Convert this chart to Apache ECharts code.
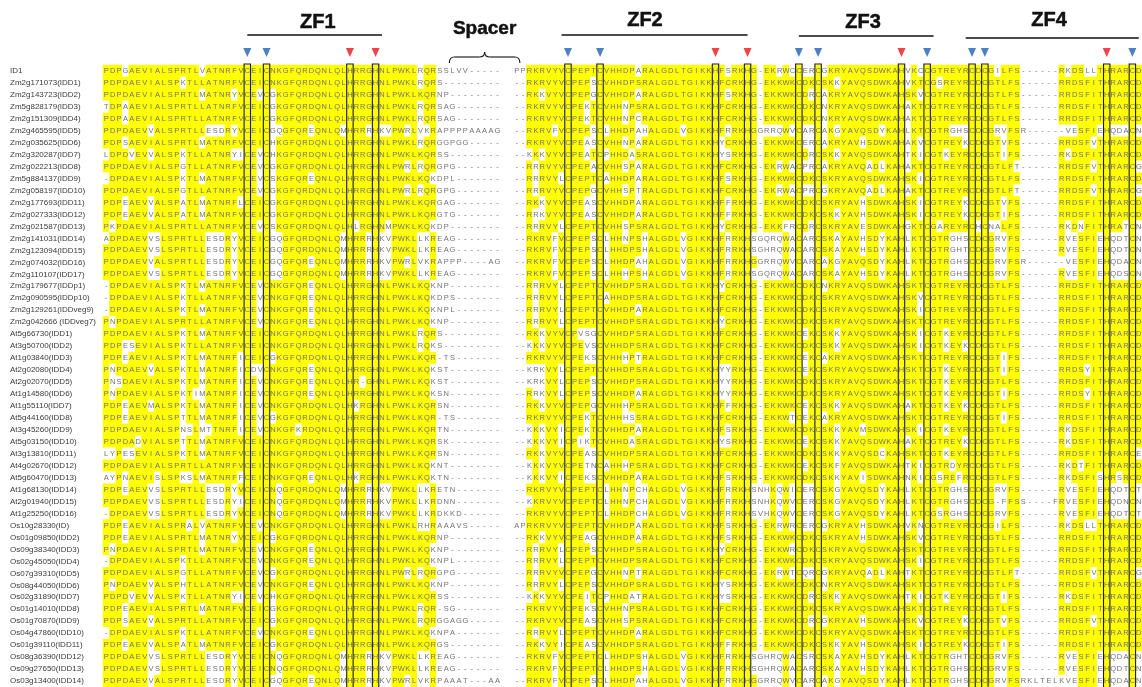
<!DOCTYPE html>
<html>
<head>
<meta charset="utf-8">
<script src="https://cdn.jsdelivr.net/npm/echarts@6/dist/echarts.min.js"></script>
<style>
html, body { margin: 0; padding: 0; background: #fff; }
#chart { width: 1142px; height: 687px; }
</style>
</head>
<body>
<div id="chart"></div>
<script>
// sequence names, top to bottom
const rowLabels = [
    'ID1', 'Zm2g171073(IDD1)', 'Zm2g143723(IDD2)', 'Zm5g828179(IDD3)', 'Zm2g151309(IDD4)',
    'Zm2g465595(IDD5)', 'Zm2g035625(IDD6)', 'Zm2g320287(IDD7)', 'Zm2g022213(IDD8)', 'Zm5g884137(IDD9)',
    'Zm2g058197(IDD10)', 'Zm2g177693(IDD11)', 'Zm2g027333(IDD12)', 'Zm2g021587(IDD13)', 'Zm2g141031(IDD14)',
    'Zm2g123094(IDD15)', 'Zm2g074032(IDD16)', 'Zm2g110107(IDD17)', 'Zm2g179677(IDDp1)', 'Zm2g090595(IDDp10)',
    'Zm2g129261(IDDveg9)', 'Zm2g042666 (IDDveg7)', 'At5g66730(IDD1)', 'At3g50700(IDD2)', 'At1g03840(IDD3)',
    'At2g02080(IDD4)', 'At2g02070(IDD5)', 'At1g14580(IDD6)', 'At1g55110(IDD7)', 'At5g44160(IDD8)',
    'At3g45260(IDD9)', 'At5g03150(IDD10)', 'At3g13810(IDD11)', 'At4g02670(IDD12)', 'At5g60470(IDD13)',
    'At1g68130(IDD14)', 'At2g01940(IDD15)', 'At1g25250(IDD16)', 'Os10g28330(ID)', 'Os01g09850(IDD2)',
    'Os09g38340(IDD3)', 'Os02g45050(IDD4)', 'Os07g39310(IDD5)', 'Os08g44050(IDD6)', 'Os02g31890(IDD7)',
    'Os01g14010(IDD8)', 'Os01g70870(IDD9)', 'Os04g47860(IDD10)', 'Os01g39110(IDD11)', 'Os08g36390(IDD12)',
    'Os09g27650(IDD13)', 'Os03g13400(IDD14)',
];

// columns 0-42 (ZF1)
const seqA = [
    'PDPGAEVIALSPRTLVATNRFVCEICNKGFQRDQNLQLHRRGH',
    'PDPDAEVIALSPKTLLATNRFVCEICNKGFQRDQNLQLHRRGH',
    'PDPDAEVIALSPRTLMATNRYVCEVCGKGFQRDQNLQLHRRGH',
    'TDPAAEVIALSPRTLLATNRFVCEICGKGFQRDQNLQLHRRGH',
    'PDPAAEVIALSPRTLLATNRFVCEICGKGFQRDQNLQLHRRGH',
    'PDPDAEVVALSPRTLLESDRYVCEICGQGFQREQNLQMHRRRH',
    'PDPSAEVIALSPRTLMATNRFVCEICHKGFQRDQNLQLHRRGH',
    'LDPDVEVVALSPKTLLATNRYICEVCHKGFQRDQNLQLHRRGH',
    'PDPDAEVIALSPGTLLATNRFVCEVCGKGFQRDQNLQLHRRGH',
    '-DPDAEVIALSPKTLMATNRFVCEVCSKGFQREQNLQLHRRGH',
    'PDPDAEVIALSPGTLLATNRFVCEVCGKGFQRDQNLQLHRRGH',
    'PDPEAEVVALSPATLMATNRFLCEICGKGFQRDQNLQLHRRGH',
    'PDPEAEVVALSPATLMATNRFVCEICGKGFQRDQNLQLHRRGH',
    'PKPDAEVIALSPRTLLATNRFVCEVCSKGFQRDQNLQLHLRGH',
    'ADPDAEVVSLSPRTLLESDRYVCEICGQGFQRDQNLQMHRRRH',
    'PDPDAEVVSLSPRTLLESDRYVCEICGQGFQRDQNLQMHRRRH',
    'PDPDAEVVALSPRTLLESDRYVCEICGQGFQREQNLQMHRRRH',
    'PDPDAEVVSLSPRTLLESDRYVCEICGQGFQRDQNLQMHRRRH',
    '-DPDAEVIALSPKTLMATNRFVCEVCNKGFQREQNLQLHRRGH',
    '-DPDAEVIALSPKTLLATNRFVCEVCNKGFQREQNLQLHRRGH',
    '-DPDAEVIALSPKTLMATNRFVCEVCNKGFQREQNLQLHRRGH',
    'PNPDAEVIALSPRTLLATNRFVCEVCNKGFQREQNLQLHRRGH',
    'PDPDAEVIALSPKTLMATNRFVCEICNKGFQRDQNLQLHRRGH',
    'PDPESEVIALSPKTLLATNRFVCEICNKGFQRDQNLQLHRRGH',
    'PDPEAEVIALSPKTLMATNRFICEICGKGFQRDQNLQLHRRGH',
    'PNPDAEVVALSPKTLMATNRFICDVCNKGFQREQNLQLHRRGH',
    'PNSDAEVIALSPKTLMATNRFICEVCNKGFQREQNLQLHR-GH',
    'PNPDAEVIALSPKTIMATNRFICEVCNKGFQREQNLQLHRRGH',
    'PDPEAEVMALSPKTLMATNRFICEVCNKGFQRDQNLQLHKRGH',
    'PDPEAEVIALSPTTLMATNRFICEVCGKGFQRDQNLQLHRRGH',
    'PDPDAEVIALSPNSLMTTNRFICEVCNKGFKRDQNLQLHRRGH',
    'PDPDADVIALSPTTLMATNRFVCEICNKGFQRDQNLQLHRRGH',
    'LYPESEVIALSPKTLMATNRFVCEICNKGFQRDQNLQLHRRGH',
    'PDPDAEVIALSPRTLLATNRFVCEICNKGFQRDQNLQLHRRGH',
    'AYPNAEVISLSPKSLMATNRFFCEICNKGFQREQNLQLHKRGH',
    'PDPEAEVVSLSPRTLLESDRYVCEICNQGFQRDQNLQMHRRRH',
    'PDPDAEVVSLSPRTLLESDRYICEICNQGFQRDQNLQMHRRRH',
    '-DPDAEVVSLSPRTLLESDRYVCEICNQGFQRDQNLQMHRRRH',
    'PDPEAEVIALSPRALVATNRFVCEVCNKGFQRDQNLQLHRRGH',
    'PDPEAEVIALSPRTLMATNRYVCEICGKGFQRDQNLQLHRRGH',
    'PNPDAEVIALSPRTLMATNRFVCEVCNKGFQREQNLQLHRRGH',
    '-DPDAEVIALSPKTLLATNRFVCEVCNKGFQREQNLQLHRRGH',
    'PDPDAEVIALSPGTLLATNRFVCEVCGKGFQRDQNLQLHRRGH',
    'PNPDAEVVALSPHTLLATNRFVCEVCNKGFQREQNLQLHRRGH',
    'PDPDVEVVALSPKTLLATNRYICEVCHKGFQRDQNLQLHRRGH',
    'PDPEAEVIALSPRTLMATNRFVCEICGKGFQRDQNLQLHRRGH',
    'PDPSAEVVALSPRTLLATNRFVCEICGKGFQRDQNLQLHRRGH',
    '-DPDAEVIALSPKTLLATNRFVCEVCNKGFQREQNLQLHRRGH',
    'PDPEAEVVALSPATLMATNRFVCEICGKGFQRDQNLQLHRRGH',
    'PDPDAEVVSLSPRTLLESDRYVCEICNQGFQRDQNLQMHRRRH',
    'PDPDAEVVSLSPRTLLESDRYVCEICNQGFQRDQNLQMHRRRH',
    'PDPDAEVVALSPRTLLESDRYVCEICGQGFQREQNLQMHRRRH',
];

// columns 43-61 (spacer)
const seqB = [
    'NLPWKLRQRSSLVV-----', 'NLPWKLRQRS---------', 'NLPWKLKQRNP--------', 'NLPWKLRQRSAG-------',
    'NLPWKLRQRSAG-------', 'KVPWRLVKRAPPPPAAAAG', 'NLPWKLRQRGGPGG-----', 'NLPWKLKQRSS--------',
    'NLPWRLRQRGPG-------', 'NLPWKLKQKDPL-------', 'NLPWRLRQRGPG-------', 'NLPWKLKQRGAG-------',
    'NLPWKLKQRGTG-------', 'NMPWKLKQKDP--------', 'KVPWKLLKREAG-------', 'KVPWKLLKREAG-------',
    'KVPWRLVKRAPPP----AG', 'KVPWKLLKREAG-------', 'NLPWKLKQKNP--------', 'NLPWKLKQKDPS-------',
    'NLPWKLKQKNPL-------', 'NLPWKLKQKNP--------', 'NLPWKLRQRS---------', 'NLPWKLRQKS---------',
    'NLPWKLKQR-TS-------', 'NLPWKLKQKST--------', 'NLPWKLKQKST--------', 'NLPWKLKQKSN--------',
    'NLPWKLKQRSN--------', 'NLPWKLKQR-TS-------', 'NLPWKLKQRTN--------', 'NLPWKLKQRSK--------',
    'NLPWKLKQRSN--------', 'NLPWKLKQKNT--------', 'NLPWKLKQKTN--------', 'KVPWKLLKRETN-------',
    'KVPWKLLKRDNN-------', 'KVPWKLLKRDKKD------', 'NLPWKLRHRAAAVS-----', 'NLPWKLKQRNP--------',
    'NLPWKLKQKNP--------', 'NLPWKLKQKNPL-------', 'NLPWRLRQRGPG-------', 'NLPWKLKQKNP--------',
    'NLPWKLKQRSS--------', 'NLPWKLRQR-SG-------', 'NLPWKLRQRGGAGG-----', 'NLPWKLKQKNPA-------',
    'NLPWKLKQRGS--------', 'KVPWKLLKREAG-------', 'KVPWKLLKREAG-------', 'KVPWRLVKRPAAAT---AA',
];

// columns 64-101 (ZF2)
const seqC = [
    'PPRKRVYVCPEPTCVHHDPARALGDLTGIKKHFSRKHG', '--RKRVYVCPEPSCVHHDPSRALGDLTGIKKHFCRKHG',
    '--RKKVYVCPEPGCVHHDPARALGDLTGIKKHFSRKHG', '--RKRVYVCPEKTCVHHNPSRALGDLTGIKKHFCRKHG',
    '--RKRVYVCPEKTCVHHNPCRALGDLTGIKKHFCRKHG', '--RKRVFVCPEPSCLHHDPAHALGDLVGIKKHFRRKHG',
    '--RKRVYVCPEASCVHHNPARALGDLTGIKKHYCRKHG', '--KKKVYVCPEATCPHHDASRALGDLTGIKKHYSRKHG',
    '--RRRVYVCPEPACVHHSPARALGDLTGIKKHFCRKHG', '--RRRVYLCPEPTCAHHDPARALGDLTGIKKHFSRKHG',
    '--RRRVYVCPEPGCVHHSPTRALGDLTGIKKHFCRKHG', '--RKKVYVCPEASCVHHDPARALGDLTGIKKHFFRKHG',
    '--RRKVYVCPEASCVHHDPARALGDLTGIKKHFFRKHG', '--RRRVYLCPEPTCVHHSPSRALGDLTGIKKHYCRKHG',
    '--RKRVFVCPEPSCLHHNPSHALGDLVGIKKHFRRKHS', '--RKRVFVCPEPSCLHHDPSHALGDLVGIKKHFRRKHS',
    '--RKRVFVCPEPSCLHHDPAHALGDLVGIKKHFRRKHG', '--RKRVFVCPEPSCLHHHPSHALGDLVGIKKHFRRKHS',
    '--RRRVYLCPEPTCVHHDPSRALGDLTGIKKHYCRKHG', '--RRRVYLCPEPTCAHHDPSRALGDLTGIKKHFCRKHG',
    '--RRRVYLCPEPTCVHHDPARALGDLTGIKKHFCRKHG', '--RRRVYLCPEPTCVHHDPSRALGDLTGIKKHYCRKHG',
    '--RKKVYVCPVSGCVHHDPSRALGDLTGIKKHFCRKHG', '--KKKVYVCPEVSCVHHDPSRALGDLTGIKKHFCRKHG',
    '--RKRVYVCPEKSCVHHHPTRALGDLTGIKKHFCRKHG', '--KRKVYLCPEPTCVHHDPSRALGDLTGIKKHYYRKHG',
    '--KRKVYLCPEPSCVHHDPSRALGDLTGIKKHYYRKHG', '--RRKVYLCPEPSCVHHDPARALGDLTGIKKHYYRKHG',
    '--RKKVYVCPEPGCVHHHPSRALGDLTGIKKHFFRKHG', '--RKRVYVCPEKTCVHHHSSRALGDLTGIKKHFCRKHG',
    '--KKKVYICPEKTCVHHDPARALGDLTGIKKHFSRKHG', '--KKKVYICPIKTCVHHDASRALGDLTGIKKHYSRKHG',
    '--RKKVYVCPEASCVHHDPSRALGDLTGIKKHFCRKHG', '--KKKVYVCPETNCAHHHPSRALGDLTGIKKHFCRKHG',
    '--KKKVYICPEKSCVHHDPARALGDLTGIKKHFSRKHG', '--RKRVYVCPEPTCLHHNPCHALGDLVGIKKHFRRKHS',
    '--KKRVYVCPEPTCLHHNPCHALGDLVGIKKHFRRKHS', '--RKRVYVCPEPTCLHHDPCHALGDLVGIKKHFRRKHS',
    'APRKRVYVCPEPTCVHHDPARALGDLTGIKKHFSRKHG', '--RKKVYVCPEAGCVHHDPARALGDLTGIKKHFSRKHG',
    '--RRRVYLCPEPSCVHHDPSRALGDLTGIKKHYCRKHG', '--RRRVYLCPEPTCVHHDPSRALGDLTGIKKHFCRKHG',
    '--RRRVYVCPEPGCVHHNPTRALGDLTGIKKHFCRKHG', '--RRRVYLCPEPSCVHHDPSRALGDLTGIKKHYSRKHG',
    '--KKKVYVCPEITCPHHDATRALGDLTGIKKHYSRKHG', '--RKRVYVCPEKSCVHHNPSRALGDLTGIKKHFCRKHG',
    '--RKRVYVCPEASCVHHSPSRALGDLTGIKKHFCRKHG', '--RRRVYLCPEPTCVHHDPARALGDLTGIKKHFCRKHG',
    '--RKKVYICPEASCVHHDPSRALGDLTGIKKHFFRKHG', '--RKRVFVCPEPTCLHHDPSHALGDLVGIKKHFRRKHS',
    '--RKRVFVCPEPTCLHHDPSHALGDLVGIKKHFRRKHS', '--RKRVFVCPEPSCLHHDPAHALGDLVGIKKHFRRKHG',
];

// columns 102-161 (ZF3, ZF4)
const seqD = [
    '-EKRWCCERCGKRYAVQSDWKAHVKCCGTREYRCDCGILFS------RKDSLLTHRARCD',
    '-EKKWKCDKCSKKYAVQSDWKAHVKTCGSREYRCDCGTLFS------RRDSFITHRARCD',
    '-EKKWKCDRCAKRYAVQSDWKAHSKVCGTREYRCDCGTLFS------RRDSFITHRARCD',
    '-EKKWKCDKCNKRYAVQSDWKAHAKTCGTREYRCDCGTLFS------RRDSFITHRARCD',
    '-EKKWKCDKCNKRYAVQSDWKAHAKTCGTREYRCDCGTLFS------RRDSFITHRARCD',
    'GRRQWVCARCAKGYAVQSDYKAHLKTCGTRGHSCDCGRVFSR------VESFIEHQDACN',
    '-EKKWKCERCAKRYAVHSDWKAHAKVCGTREYKCDCGTVFS------RRDSFVTHRARCD',
    '-EKKWKCDRCSKKYAVQSDWKAHTKICGTKEYRCDCGTIFS------RKDSFITHRARCD',
    '-EKRWACPRCAKRYAVQADLKAHAKTCGTREYRCDCGTLFT------RRDSFVTHRARCG',
    '-EKKWKCDKCSKRYAVQSDWKAHSKICGTREYRCDCGTLFS------RRDSFITHRARCD',
    '-EKRWACPRCGKRYAVQADLKAHAKTCGTREYRCDCGTLFT------RRDSFVTHRARCG',
    '-EKKWKCDKCSKRYAVHSDWKAHSKICGTREYKCDCGTVFS------RRDSFITHRARCD',
    '-EKKWKCDKCSKKYAVHSDWKAHSKICGTREYKCDCGTIFS------RRDSFITHRARCD',
    '-EKKFRCDRCSKRYAVESDWKAHGKTCGAREYRCHCNALFS------RKDNFITHRATCN',
    'GQRQWACARCSKAYAVHSDYKAHLKTCGTRGHSCDCGRVFS------RVESFIEHQDTCN',
    'GHRQWACARCSKAYAVHSDYKAHLKTCGTRGHTCDCGRVFS------RVESFIEHQDTCN',
    'GRRQWVCARCAKGYAVQSDYKAHLKTCGTRGHSCDCGRVFSR------VESFIEHQDACN',
    'GQRQWACARCSKAYAVHSDYKAHLKTCGTRGHSCDCGRVFS------RVESFIEHQDSCN',
    '-EKKWKCDKCNKRYAVQSDWKAHSKTCGTREYRCDCGTLFS------RRDSFITHRARCD',
    '-EKKWKCDKCSKRYAVQSDWKAHSKVCGTREYRCDCGTLFS------RRDSFITHRARCD',
    '-EKKWKCDKCSKRYAVQSDWKAHSKICGTREYRCDCGTLFS------RRDSFITHRARCD',
    '-EKKWKCDKCSKRYAVQSDWKAHSKTCGTREYRCDCGTLFS------RRDSFITHRARCD',
    '-EKKWKCEKCSKKYAVQSDWKAHSKICGTKEYRCDCGTLFS------RRDSFITHRARCD',
    '-EKKWKCDKCSKKYAVQSDWKAHSKICGTKEYKCDCGTLFS------RRDSFITHRARCD',
    '-EKKWKCEKCAKRYAVQSDWKAHSKTCGTREYRCDCGTIFS------RRDSFITHRARCD',
    '-EKKWKCEKCSKRYAVQSDWKAHSKTCGTKEYRCDCGTIFS------RRDSYITHRARCD',
    '-EKKWKCDKCSKRYAVQSDWKAHSKTCGTKEYRCDCGTLFS------RRDSFITHRARCD',
    '-EKKWKCDKCSKRYAVQSDWKAHSKTCGTKEYRCDCGTIFS------RRDSYITHRARCD',
    '-EKKWKCEKCSKKYAVQSDWKAHAKTCGTKEYKCDCGTLFS------RRDSFITHRARCD',
    '-EKKWTCEKCAKRYAVQSDWKAHSKTCGTREYRCDCGTIFS------RRDSFITHRARCD',
    '-EKKWKCDKCSKKYAVMSDWKAHSKICGTKEYRCDCGTLFS------RKDSFITHRARCD',
    '-EKKWKCEKCSKKYAVQSDWKAHAKTCGTREYKCDCGTLFS------RKDSFITHRARCD',
    '-EKKWKCDKCSKKYAVQSDCKAHSKTCGTKEYRCDCGTLFS------RRDSFITHRARCE',
    '-EKKWKCEKCSKFYAVQSDWKAHTKICGTRDYRCDCGTLFS------RKDTFITHRARCD',
    '-EKKWKCDKCSKKYAVISDWKAHNKICGSREFRCDCGTLFS------RKDSFISHRSRCD',
    'NHKQWICERCSKGYAVQSDYKAHLKTCGTRGHSCDCGRVFS------RVESFIEHQDTCT',
    'NHKQWVCERCSKGYAVQSDYKAHLKTCGTRGHSCDCG-FFSS----FRVESFIEHQDNCN',
    'VHKQWVCERCSKGYAVQSDYKAHLKTCGSRGHSCDCGRVFS------RVESFIEHQDTCT',
    '-EKRWRCERCGKRYAVHSDWKAHVKNCGTREYRCDCGILFS------RKDSLLTHRARCD',
    '-EKKWKCDKCSKRYAVHSDWKAHSKVCGTREYRCDCGTLFS------RRDSFITHRARCD',
    '-EKKWRCDKCSKRYAVQSDWKAHSKTCGTREYRCDCGTLFS------RRDSFITHRARCD',
    '-EKKWKCDKCSKRYAVQSDWKAHSKICGTREYRCDCGTLFS------RRDSFITHRARCD',
    '-EKRWTCQRCGKRYAVQADLKAHTKTCGTREYRCDCGTLFT------RRDSFVTHRARCG',
    '-EKKWKCDKCNKRYAVQSDWKAHSKTCGTREYRCDCGTLFS------RRDSFITHRARCD',
    '-EKKWKCDRCSKKYAVQSDWKAHTKICGTKEYRCDCGTIFS------RKDSFITHRARCD',
    '-EKKWKCDKCSKRYAVQSDWKAHSKTCGTREYRCDCGTLFS------RRDSFITHRARCD',
    '-EKKWKCDRCGKRYAVHSDWKAHSKVCGTREYKCDCGTVFS------RRDSFVTHRARCD',
    '-EKKWKCDKCSKRYAVQSDWKAHSKTCGTREYRCDCGTLFS------RRDSFITHRARCD',
    '-EKKWKCDKCSKKYAVHSDWKAHSKICGTREYKCDCGTIFS------RRDSFITHRARCD',
    'GHRQWACSRCSKAYAVHSDYKAHLKTCGTRGHTCDCGRVFS------RVESFIEHQDACN',
    'GHRQWACARCSKAYAVHSDYKAHLKTCGTRGHSCDCGRVFS------RVESFIEHQDTCN',
    'GRRQWVCARCAKGYAVQSDYKAHLKTCGTRGHSCDCGRVFSRKLTELKVESFIEHQDACN',
];

// boxed (conserved C/H) columns and the triangles above them
const boxCols = [22, 25, 38, 42, 72, 77, 95, 100, 108, 111, 124, 128, 135, 137, 156, 160];
const blueCols = [22, 25, 72, 77, 108, 111, 128, 135, 137, 160];
const redCols = [38, 42, 95, 100, 124, 156];

// zinc finger domains (column ranges) and the spacer
const zfNames = ['ZF1', 'ZF2', 'ZF3', 'ZF4'];
const zfStart = [22, 71, 108, 134];
const zfEnd = [43, 100, 129, 161];
const zfLabelCol = [33, 84, 118, 147];
const spacerName = 'Spacer';
const spacerRange = [54, 64];

function fit(s, n) {
    return (s + '-'.repeat(n)).slice(0, n);
}

const seqs = rowLabels.map((_, r) => fit(seqA[r], 43) + fit(seqB[r], 19) + '  ' + fit(seqC[r], 38) + fit(seqD[r], 60));
const nCols = seqs[0].length;
const nRows = seqs.length;
const cols = Array.from({ length: nCols }, (_, i) => String(i));

// consensus residue per column (identity shading)
const consensus = cols.map((_, c) => {
    let cnt = {};
    seqs.forEach((s) => {
        const ch = s[c];
        if (ch !== '-' && ch !== ' ') {
            cnt[ch] = (cnt[ch] || 0) + 1;
        }
    });
    let best = null;
    let n = 0;
    for (const k in cnt) {
        if (cnt[k] > n) {
            best = k;
            n = cnt[k];
        }
    }
    return n >= 0.4 * nRows ? best : null;
});

let cells = [];
seqs.forEach((s, r) => {
    for (let c = 0; c < nCols; c++) {
        const ch = s[c];
        cells.push([c, r, ch === consensus[c] ? 1 : 0, ch.trim()]);
    }
});

const chart = echarts.init(document.getElementById('chart'));
const fontSans = '"Liberation Sans", Arial, sans-serif';

function titleText(x, y, text, size) {
    return {
        type: 'text',
        x: x,
        y: y,
        style: {
            text: text,
            fill: '#111',
            stroke: '#111',
            lineWidth: 0.5,
            fontSize: size,
            fontWeight: 'bold',
            fontFamily: fontSans,
            align: 'center',
            verticalAlign: 'middle',
        },
    };
}

const option = {
    animation: false,
    grid: [
        { left: 103, right: 0, top: 65, bottom: 0 },
        { left: 103, right: 0, top: 0, height: 65 },
    ],
    xAxis: [
        { type: 'category', data: cols, gridIndex: 0, show: false },
        { type: 'category', data: cols, gridIndex: 1, show: false },
    ],
    yAxis: [
        {
            type: 'category',
            data: rowLabels,
            gridIndex: 0,
            inverse: true,
            axisLine: { show: false },
            axisTick: { show: false },
            splitLine: { show: false },
            axisLabel: {
                interval: 0,
                align: 'left',
                margin: 93,
                fontSize: 8,
                color: '#3a3a3a',
                fontFamily: fontSans,
            },
        },
        { type: 'value', gridIndex: 1, min: 0, max: 65, inverse: true, show: false },
    ],
    visualMap: {
        show: false,
        type: 'piecewise',
        seriesIndex: 0,
        dimension: 2,
        pieces: [
            { value: 1, color: '#ffff00' },
            { value: 0, color: '#ffffff' },
        ],
    },
    series: [
        {
            type: 'heatmap',
            data: cells,
            progressive: 0,
            itemStyle: { borderWidth: 0 },
            label: {
                show: true,
                formatter: (p) => p.data[3],
                fontSize: 7.5,
                color: '#727272',
                fontFamily: fontSans,
            },
            emphasis: { disabled: true },
        },
        {
            // boxes around the conserved Cys / His columns
            type: 'custom',
            xAxisIndex: 0,
            yAxisIndex: 0,
            z: 5,
            data: boxCols.map((c) => [c, 0]),
            renderItem: (params, api) => {
                const c = api.value(0);
                const sz = api.size([1, 1]);
                const top = api.coord([c, 0]);
                const bot = api.coord([c, nRows - 1]);
                return {
                    type: 'rect',
                    shape: {
                        x: top[0] - sz[0] / 2,
                        y: top[1] - sz[1] / 2 - 1,
                        width: sz[0],
                        height: bot[1] - top[1] + sz[1] + 2,
                    },
                    style: { fill: 'none', stroke: '#1a1a1a', lineWidth: 1.1 },
                };
            },
        },
        {
            type: 'scatter',
            xAxisIndex: 1,
            yAxisIndex: 1,
            symbol: 'triangle',
            symbolRotate: 180,
            symbolSize: [8, 9],
            itemStyle: { color: '#1d62b5' },
            data: blueCols.map((c) => [c, 52.5]),
        },
        {
            type: 'scatter',
            xAxisIndex: 1,
            yAxisIndex: 1,
            symbol: 'triangle',
            symbolRotate: 180,
            symbolSize: [8, 9],
            itemStyle: { color: '#e8141c' },
            data: redCols.map((c) => [c, 52.5]),
        },
        {
            // ZF titles with their lines
            type: 'custom',
            xAxisIndex: 1,
            yAxisIndex: 1,
            data: zfNames.map((n, i) => [zfStart[i], zfEnd[i], zfLabelCol[i], i]),
            renderItem: (params, api) => {
                const i = api.value(3);
                const lineY = [35, 35, 36, 38][i];
                const textY = [22, 20, 22, 20][i];
                const x1 = api.coord([api.value(0), 0])[0];
                const x2 = api.coord([api.value(1), 0])[0];
                const xt = api.coord([api.value(2), 0])[0];
                return {
                    type: 'group',
                    children: [
                        {
                            type: 'line',
                            shape: { x1: x1, y1: lineY, x2: x2, y2: lineY },
                            style: { stroke: '#111', lineWidth: 1.6 },
                        },
                        titleText(xt, textY, zfNames[i], 20),
                    ],
                };
            },
        },
        {
            // spacer brace
            type: 'custom',
            xAxisIndex: 1,
            yAxisIndex: 1,
            data: [[spacerRange[0], spacerRange[1]]],
            renderItem: (params, api) => {
                const w = api.size([1, 0])[0];
                const xl = api.coord([api.value(0), 0])[0] - w / 2;
                const xr = api.coord([api.value(1), 0])[0] + w / 2;
                const xm = (xl + xr) / 2;
                const st = { stroke: '#222', lineWidth: 1.2, fill: 'none' };
                return {
                    type: 'group',
                    children: [
                        { type: 'bezierCurve', shape: { x1: xl, y1: 63, x2: xl + 5, y2: 57, cpx1: xl, cpy1: 57 }, style: st },
                        { type: 'line', shape: { x1: xl + 5, y1: 57, x2: xm - 5, y2: 57 }, style: st },
                        { type: 'bezierCurve', shape: { x1: xm - 5, y1: 57, x2: xm, y2: 52, cpx1: xm, cpy1: 57 }, style: st },
                        { type: 'bezierCurve', shape: { x1: xm, y1: 52, x2: xm + 5, y2: 57, cpx1: xm, cpy1: 57 }, style: st },
                        { type: 'line', shape: { x1: xm + 5, y1: 57, x2: xr - 5, y2: 57 }, style: st },
                        { type: 'bezierCurve', shape: { x1: xr - 5, y1: 57, x2: xr, y2: 63, cpx1: xr, cpy1: 57 }, style: st },
                        titleText(xm, 29, spacerName, 19),
                    ],
                };
            },
        },
    ],
};

chart.setOption(option);
</script>
</body>
</html>
